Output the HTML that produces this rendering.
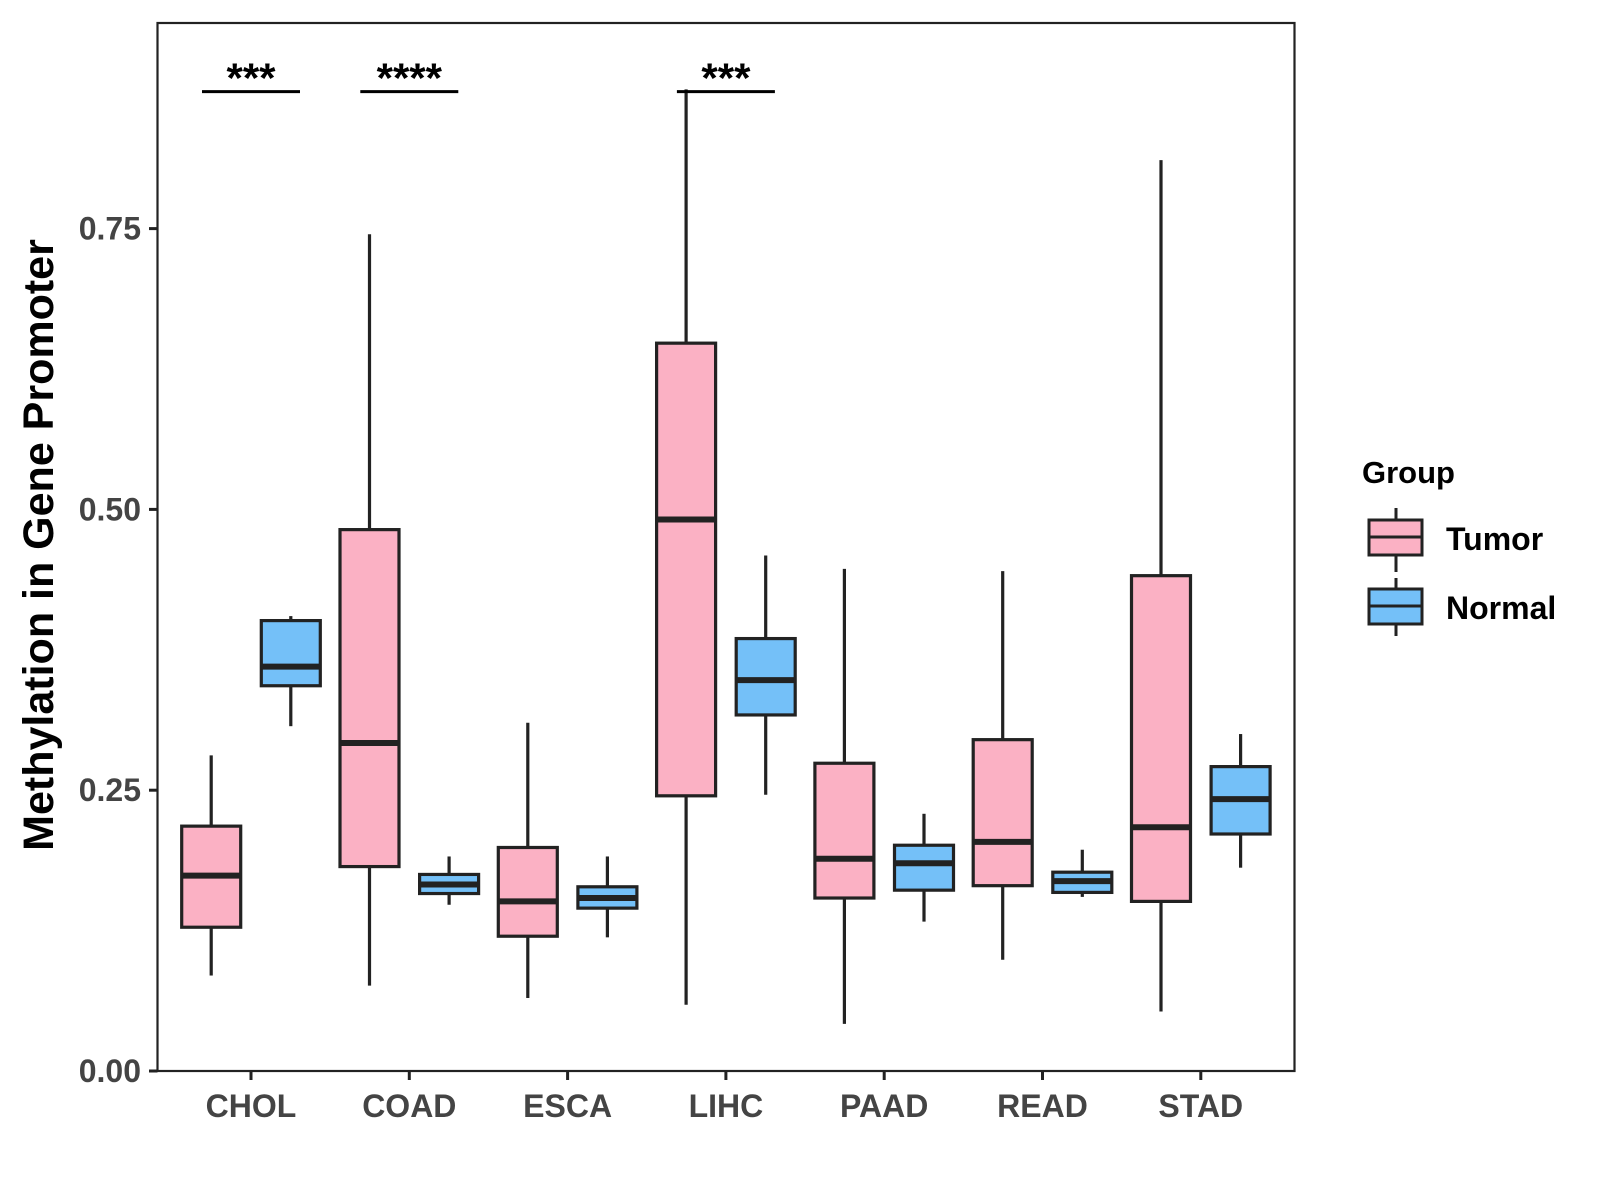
<!DOCTYPE html>
<html><head><meta charset="utf-8"><style>body{margin:0;background:#fff}svg{display:block}text{font-family:"Liberation Sans",sans-serif;font-weight:bold}</style></head>
<body>
<svg id="chart" width="1600" height="1200" viewBox="0 0 1600 1200" xmlns="http://www.w3.org/2000/svg">
<rect x="157.5" y="23" width="1137" height="1048" fill="#fff" stroke="#222" stroke-width="2.2"/>
<text transform="translate(53,545) rotate(-90)" text-anchor="middle" font-size="43" fill="#000">Methylation in Gene Promoter</text>
<g id="marks"></g>
<g>
<text x="1362" y="483" font-size="31" fill="#000">Group</text>
<g>
<line x1="1396" y1="508" x2="1396" y2="572" stroke="#222" stroke-width="3"/>
<rect x="1369" y="520" width="53" height="35" fill="#fbb1c4" stroke="#222" stroke-width="3"/>
<line x1="1369" y1="537" x2="1422" y2="537" stroke="#222" stroke-width="3"/>
<text x="1446" y="550" font-size="32" fill="#000">Tumor</text></g>
<g>
<line x1="1396" y1="578" x2="1396" y2="636" stroke="#222" stroke-width="3"/>
<rect x="1369" y="589" width="53" height="35" fill="#74c0f8" stroke="#222" stroke-width="3"/>
<line x1="1369" y1="606" x2="1422" y2="606" stroke="#222" stroke-width="3"/>
<text x="1446" y="619" font-size="32" fill="#000">Normal</text></g>
</g>
</svg>
<script>
const categories=["CHOL","COAD","ESCA","LIHC","PAAD","READ","STAD"];
const tumorLow=[0.085,0.076,0.065,0.059,0.042,0.099,0.053];
const tumorQ1=[0.128,0.182,0.120,0.245,0.154,0.165,0.151];
const tumorMed=[0.174,0.292,0.151,0.491,0.189,0.204,0.217];
const tumorQ3=[0.218,0.482,0.199,0.648,0.274,0.295,0.441];
const tumorHigh=[0.281,0.745,0.310,0.874,0.447,0.445,0.811];
const normalLow=[0.307,0.148,0.119,0.246,0.133,0.155,0.181];
const normalQ1=[0.343,0.158,0.145,0.317,0.161,0.159,0.211];
const normalMed=[0.360,0.166,0.154,0.348,0.185,0.169,0.242];
const normalQ3=[0.401,0.175,0.164,0.385,0.201,0.177,0.271];
const normalHigh=[0.405,0.191,0.191,0.459,0.229,0.197,0.300];
const yTicks=[0,0.25,0.5,0.75];
const yTickLabels=["0.00","0.25","0.50","0.75"];
const sigCats=[0,1,3];
const sigLabels=["***","****","***"];
const sigY=0.872;

const NS="http://www.w3.org/2000/svg";
const g=document.getElementById('marks');
const y=v=>1071-v*1123.2;
const x=i=>251+i*158.3;
function mk(t,a){const e=document.createElementNS(NS,t);for(const k in a)e.setAttribute(k,a[k]);g.appendChild(e);return e;}
yTicks.forEach((v,i)=>{
 const l=mk('line',{x1:149,x2:157.5,y1:y(v),y2:y(v),stroke:'#222','stroke-width':3});
 
 
 const t=mk('text',{x:141,y:y(v)+11,'text-anchor':'end','font-size':32,fill:'#444'});
 t.textContent=yTickLabels[i];
 
 
});
categories.forEach((c,i)=>{
 const l=mk('line',{x1:x(i),x2:x(i),y1:1071,y2:1080,stroke:'#222','stroke-width':3});
 
 
 const t=mk('text',{x:x(i),y:1117,'text-anchor':'middle','font-size':32,fill:'#444'});
 t.textContent=c;
 
 
});
function box(cx,lo,q1,md,q3,hi,fill,name){
 const w=59;
 const a=mk('line',{x1:cx,x2:cx,y1:y(hi),y2:y(q3),stroke:'#222','stroke-width':3.2});
 
 
 const b=mk('line',{x1:cx,x2:cx,y1:y(q1),y2:y(lo),stroke:'#222','stroke-width':3.2});
 
 
 const r=mk('rect',{x:cx-w/2,y:y(q3),width:w,height:y(q1)-y(q3),fill:fill,stroke:'#222','stroke-width':3.2});
 
 
 const m=mk('line',{x1:cx-w/2,x2:cx+w/2,y1:y(md),y2:y(md),stroke:'#222','stroke-width':6});
 
 
}
categories.forEach((c,i)=>{
 box(x(i)-39.8,tumorLow[i],tumorQ1[i],tumorMed[i],tumorQ3[i],tumorHigh[i],'#fbb1c4',c.toLowerCase()+'-tumor');
 box(x(i)+39.8,normalLow[i],normalQ1[i],normalMed[i],normalQ3[i],normalHigh[i],'#74c0f8',c.toLowerCase()+'-normal');
});
sigCats.forEach((ci,k)=>{
 const l=mk('line',{x1:x(ci)-49,x2:x(ci)+49,y1:y(sigY),y2:y(sigY),stroke:'#000','stroke-width':3});
 
 
 const t=mk('text',{x:x(ci),y:y(sigY)+1,'text-anchor':'middle','font-size':42,fill:'#000'});
 t.textContent=sigLabels[k];
 
 
});
</script>
</body></html>
